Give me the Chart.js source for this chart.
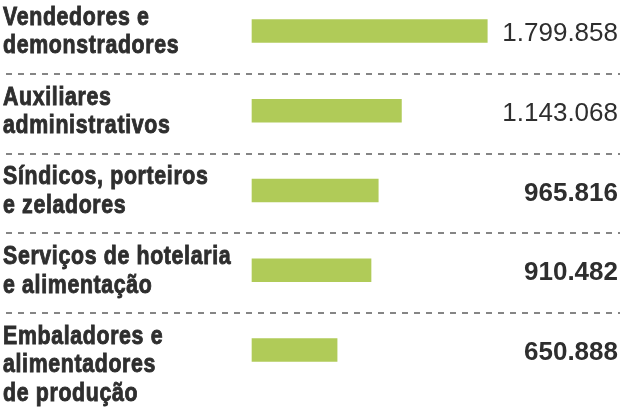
<!DOCTYPE html>
<html lang="pt-BR">
<head>
<meta charset="utf-8">
<script src="https://cdn.jsdelivr.net/npm/chart.js@4.4.1/dist/chart.umd.min.js"></script>
<style>
  html, body { margin: 0; padding: 0; background: #fff; }
  #wrap { width: 620px; height: 417px; position: relative; }
</style>
</head>
<body>
<div id="wrap"><canvas id="chart"></canvas></div>
<script>
// dados
const categories = [
    ['Vendedores e', 'demonstradores'],
    ['Auxiliares', 'administrativos'],
    ['Síndicos, porteiros', 'e zeladores'],
    ['Serviços de hotelaria', 'e alimentação'],
    ['Embaladores e', 'alimentadores', 'de produção']
];
const workers = [1799858, 1143068, 965816, 910482, 650888];
const axisMax = 2800000;

const labelFont = '"Liberation Sans", Arial, sans-serif';
const valueFont = '"Liberation Sans", Arial, sans-serif';
const squeeze = 0.82; // fonte condensada simulada

function fmt(n) {
    return String(n).replace(/\B(?=(\d{3})+(?!\d))/g, '.');
}

// linhas tracejadas e valores à direita
const rowDecor = {
    id: 'rowDecor',
    afterDraw(chart) {
        const { ctx, chartArea, scales: { y } } = chart;
        ctx.save();
        ctx.strokeStyle = '#858585';
        ctx.lineWidth = 2;
        ctx.setLineDash([6, 6]);
        ctx.lineDashOffset = 6;
        for (let i = 1; i < workers.length; i++) {
            const yy = Math.round((y.getPixelForValue(i - 1) + y.getPixelForValue(i)) / 2) + 3;
            ctx.beginPath();
            ctx.moveTo(0, yy);
            ctx.lineTo(chart.width, yy);
            ctx.stroke();
        }
        ctx.setLineDash([]);
        ctx.fillStyle = '#2e2e2e';
        ctx.textAlign = 'right';
        ctx.textBaseline = 'alphabetic';
        workers.forEach((v, i) => {
            const txt = fmt(v);
            ctx.font = (txt.length > 7 ? 'normal' : 'bold') + ' 26px ' + valueFont;
            ctx.fillText(txt, chartArea.right, y.getPixelForValue(i) + 10);
        });
        ctx.restore();
    }
};

new Chart(document.getElementById('chart'), {
    type: 'bar',
    data: {
        labels: categories,
        datasets: [{
            data: workers,
            backgroundColor: '#b0cb58',
            borderWidth: 0,
            barThickness: 23,
            clip: false
        }]
    },
    options: {
        indexAxis: 'y',
        responsive: true,
        maintainAspectRatio: false,
        animation: false,
        layout: {
            padding: { left: 3, right: 2, top: 31, bottom: 67 }
        },
        plugins: {
            legend: { display: false },
            tooltip: { enabled: false }
        },
        scales: {
            x: {
                min: 0,
                max: axisMax,
                display: false
            },
            y: {
                offset: false,
                grid: { display: false },
                border: { display: false },
                ticks: {
                    autoSkip: false,
                    crossAlign: 'far',
                    padding: 0,
                    color: '#2e2e2e',
                    textStrokeColor: '#2e2e2e',
                    textStrokeWidth: 0.9,
                    font: { family: labelFont, size: 26, weight: 'bold', lineHeight: 1.1 },
                    // rótulos de 3 linhas ficam pendurados a partir do topo
                    callback: function (value) {
                        const lines = this.getLabelForValue(value);
                        return Array.isArray(lines) && lines.length > 2 ? [''].concat(lines) : lines;
                    }
                },
                afterFit(scale) {
                    scale.width = 249;
                    scale.paddingTop = 0;
                    scale.paddingBottom = 0;
                    if (!scale._squeezed) {
                        const drawLabels = scale.drawLabels.bind(scale);
                        scale._computeLabelArea = () => undefined;
                        scale.drawLabels = function (area) {
                            const ctx = this.ctx;
                            ctx.save();
                            ctx.letterSpacing = '0.8px';
                            ctx.translate(this.left, 1);
                            ctx.scale(squeeze, 1);
                            ctx.translate(-this.left, 0);
                            drawLabels(area);
                            ctx.restore();
                        };
                        scale._squeezed = true;
                    }
                }
            }
        }
    },
    plugins: [rowDecor]
});
</script>
</body>
</html>
